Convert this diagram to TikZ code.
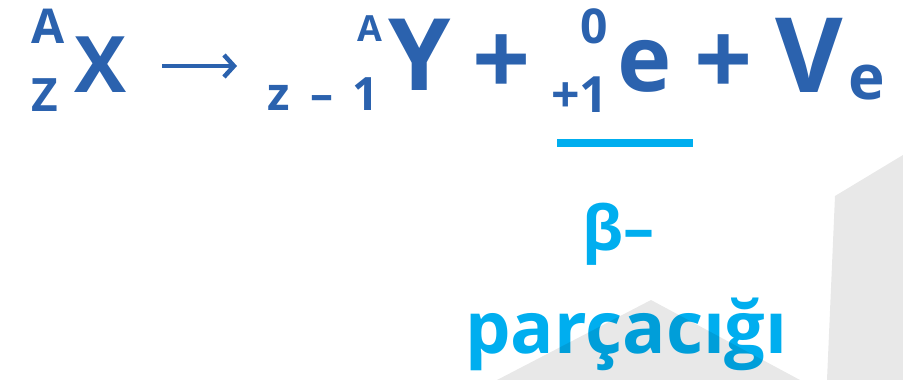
\documentclass[tikz,border=0pt]{standalone}
\usepackage{fontspec}
\setmainfont{Open Sans}
\usetikzlibrary{arrows.meta}
\definecolor{eqblue}{HTML}{2B62AE}
\definecolor{betablue}{HTML}{00AEEF}

\begin{document}
\begin{tikzpicture}[x=1pt, y=-1pt,
  sym/.style={inner sep=0, anchor=base west, text=eqblue, font=\bfseries\fontsize{#1}{#1}\selectfont},
  opsym/.style={inner sep=0, anchor=center, text=eqblue, font=\bfseries\fontsize{#1}{#1}\selectfont},
  betatxt/.style={inner sep=0, anchor=base west, text=betablue, font=\bfseries\fontsize{#1}{#1}\selectfont},
  reacarr/.style={draw=eqblue, line width=4.5pt, -{Straight Barb[length=10pt, width=22pt]}},
  betaline/.style={draw=betablue, line width=8pt},
  shade/.style={fill=black, fill opacity=0.09}
]
\useasboundingbox (0,0) rectangle (903,380);
% parent nucleus
\node[sym=48] (massX) at (31,43) {A};
\node[sym=46] (atomX) at (31,111) {Z};
\node[sym=78] (nucX) at (74,92) {X};
% arrow
\coordinate (arrS) at (162,66);
\coordinate (arrE) at (237,66);
\draw[reacarr] (arrS) -- (arrE);
% daughter nucleus
\node[sym=46] (atomY) at (267,110) {z\hspace{21pt}–\hspace{19pt}1};
\node[sym=36] (massY) at (357,41) {A};
\node[sym=100] (nucY) at (388,90) {Y};
\node[opsym=102] (plusA) at (502,65) {+};
% electron
\node[sym=48] (massE) at (580,43) {0};
\node[sym=50] (chargeE) at (551,112) {+1};
\node[sym=92] (elec) at (617,91) {e};
\node[opsym=102] (plusB) at (724,65) {+};
% neutrino
\node[sym=104] (nuV) at (775,92) {V};
\node[sym=62] (nuE) at (848,99) {e};
% beta label
\draw[betaline] (557,143) -- (693,143);
\node[betatxt=62] (beta) at (582,250) {β–};
\node[betatxt=72] (part) at (465,353) {parçacığı};
% background shapes
\fill[shade] (835,196) -- (903,155) -- (903,380) -- (827,380) -- cycle;
\fill[shade] (651,300) -- (800,380) -- (497,380) -- cycle;
\end{tikzpicture}
\end{document}
